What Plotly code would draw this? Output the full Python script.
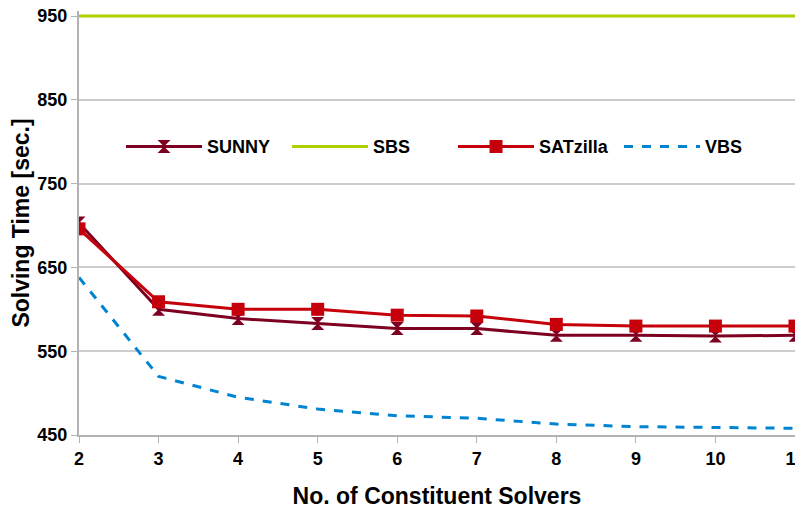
import plotly.graph_objects as go

solvers = [2, 3, 4, 5, 6, 7, 8, 9, 10, 11]
sunny = [703, 600, 589, 583, 577, 577, 569, 569, 568, 569]
sbs = [950, 950, 950, 950, 950, 950, 950, 950, 950, 950]
satzilla = [696, 609, 600, 600, 593, 592, 582, 580, 580, 580]
vbs = [638, 520, 495, 481, 473, 470, 463, 460, 459, 458]

fig = go.Figure()
fig.add_trace(go.Scatter(x=solvers, y=sunny, name="SUNNY", mode="lines+markers",
                         line=dict(color="#7e0021", width=3),
                         marker=dict(symbol="hourglass", size=13, color="#7e0021")))
fig.add_trace(go.Scatter(x=solvers, y=sbs, name="SBS", mode="lines",
                         line=dict(color="#aecf00", width=3)))
fig.add_trace(go.Scatter(x=solvers, y=satzilla, name="SATzilla", mode="lines+markers",
                         line=dict(color="#c5000b", width=3),
                         marker=dict(symbol="square", size=13, color="#c5000b")))
fig.add_trace(go.Scatter(x=solvers, y=vbs, name="VBS", mode="lines",
                         line=dict(color="#0084d1", width=3, dash="dash")))

bold = dict(family="Liberation Sans", size=18, color="#000000", weight="bold")
# page body adds 8px offset, so size and margins are trimmed by that
fig.update_layout(
    width=795, height=503,
    margin=dict(l=71, r=8, t=3, b=76),
    plot_bgcolor="white", paper_bgcolor="white",
    font=dict(family="Liberation Sans", color="#000000"),
    showlegend=True,
    legend=dict(orientation="h", x=0.0587, y=0.68, yanchor="middle", xanchor="left",
                font=bold, itemwidth=76, entrywidth=75, bgcolor="rgba(0,0,0,0)"),
)
fig.update_xaxes(range=[2, 11], dtick=1, tickfont=bold, automargin=False,
                 ticklabeloverflow="allow",
                 title=dict(text="No. of Constituent Solvers",
                            font=dict(size=23, weight="bold"), standoff=20),
                 showline=True, linecolor="#b3b3b3", linewidth=2, mirror=False,
                 ticks="outside", ticklen=6, tickcolor="#b3b3b3", showgrid=False)
fig.update_yaxes(range=[450, 956], tickvals=[450, 550, 650, 750, 850, 950], tickfont=bold,
                 automargin=False, ticklabeloverflow="allow",
                 title=dict(text="Solving Time [sec.]",
                            font=dict(size=23, weight="bold"), standoff=6),
                 showline=True, linecolor="#b3b3b3", linewidth=2, mirror=True,
                 ticks="outside", ticklen=6, tickcolor="#b3b3b3",
                 showgrid=True, gridcolor="#cccccc", gridwidth=2, zeroline=False)

fig.write_html("out.html")
